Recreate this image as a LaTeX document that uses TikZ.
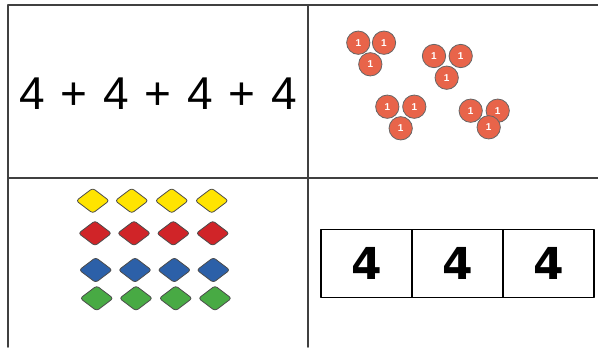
\documentclass[tikz,border=0pt]{standalone}
\usepackage{fontspec}
\setmainfont{Liberation Sans}
\newfontfamily\barfont{DejaVu Sans}
\usetikzlibrary{positioning}
\usetikzlibrary{shapes.geometric}
\definecolor{counterred}{RGB}{232,100,74}
\definecolor{gemyellow}{RGB}{255,228,0}
\definecolor{gemred}{RGB}{208,36,40}
\definecolor{gemblue}{RGB}{44,96,168}
\definecolor{gemgreen}{RGB}{72,170,68}

\begin{document}
\begin{tikzpicture}[line cap=round,line join=round,x=0.75pt,y=-0.75pt,
    grid/.style={line width=1.2pt, draw=black!75},
    counter/.style={circle, draw=black!60, fill=counterred, line width=0.6pt, minimum size=17.5pt, inner sep=0pt, text=white, font=\bfseries\fontsize{7.5}{7.5}\selectfont},
    gem/.style={diamond, draw=black!70, line width=0.6pt, minimum width=25pt, minimum height=19pt, inner sep=0pt, rounded corners=2pt},
    bar/.style={draw, line width=0.8pt, minimum width=68.25pt, minimum height=51pt, inner sep=0pt, outer sep=0pt, font=\barfont\bfseries\fontsize{33}{33}\selectfont}]
                    \useasboundingbox (0,0) rectangle (598,347);

                    % table
                    \draw [grid] (8,347) -- (8,5) -- (598,5);
                    \draw [grid] (308,5) -- (308,347);
                    \draw [grid] (8,178) -- (598,178);

                    % repeated addition
                    \node (sum) at (158,94) {\fontsize{34.5}{34.5}\selectfont\spaceskip=11.8pt 4 + 4 + 4 + 4};

                    % counters
                    \node[counter] (c1) at (358.3,42.7) {1};
                    \node[counter] (c2) at (384,42.7) {1};
                    \node[counter] (c3) at (370.3,64.3) {1};
                    \node[counter] (c4) at (434,56) {1};
                    \node[counter] (c5) at (460.7,56) {1};
                    \node[counter] (c6) at (446.7,77.7) {1};
                    \node[counter] (c7) at (387.3,106.7) {1};
                    \node[counter] (c8) at (414.3,106.7) {1};
                    \node[counter] (c9) at (400.7,128.3) {1};
                    \node[counter] (c10) at (470.7,110.7) {1};
                    \node[counter] (c11) at (497.7,110.7) {1};
                    \node[counter] (c12) at (488.7,127.3) {1};

                    % array of gems
                    \node[gem, fill=gemyellow] (y1) at (92.7,200.7) {};
                    \node[gem, fill=gemyellow] (y2) at (131.7,200.7) {};
                    \node[gem, fill=gemyellow] (y3) at (171.7,200.7) {};
                    \node[gem, fill=gemyellow] (y4) at (211.7,200.7) {};
                    \node[gem, fill=gemred] (r1) at (95,233.3) {};
                    \node[gem, fill=gemred] (r2) at (134,233.3) {};
                    \node[gem, fill=gemred] (r3) at (173.3,233.3) {};
                    \node[gem, fill=gemred] (r4) at (212.7,233.3) {};
                    \node[gem, fill=gemblue] (u1) at (95.7,270) {};
                    \node[gem, fill=gemblue] (u2) at (135,270) {};
                    \node[gem, fill=gemblue] (u3) at (174.3,270) {};
                    \node[gem, fill=gemblue] (u4) at (213.3,270) {};
                    \node[gem, fill=gemgreen] (g1) at (96.7,298.3) {};
                    \node[gem, fill=gemgreen] (g2) at (136,298.3) {};
                    \node[gem, fill=gemgreen] (g3) at (175.7,298.3) {};
                    \node[gem, fill=gemgreen] (g4) at (215,298.3) {};

                    % bar model
                    \node[bar] (b1) at (366.5,263.3) {4};
                    \node[bar, right=0pt of b1] (b2) {4};
                    \node[bar, right=0pt of b2] (b3) {4};
                \end{tikzpicture}
\end{document}
